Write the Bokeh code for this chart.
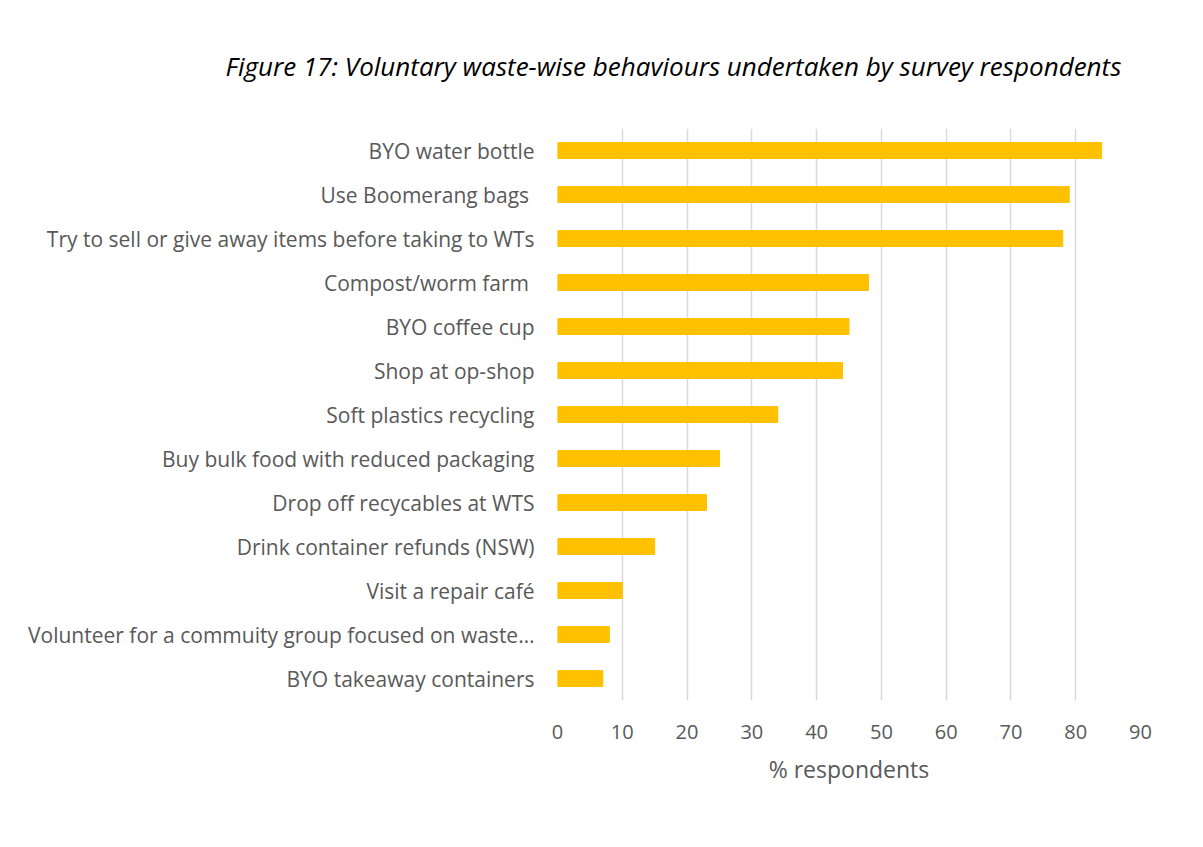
from bokeh.plotting import figure
from bokeh.models import FactorRange, Range1d, FixedTicker, Title
from bokeh.embed import file_html
from bokeh.resources import INLINE

categories = [
    "BYO water bottle",
    "Use Boomerang bags ",
    "Try to sell or give away items before taking to WTs",
    "Compost/worm farm ",
    "BYO coffee cup",
    "Shop at op-shop",
    "Soft plastics recycling",
    "Buy bulk food with reduced packaging",
    "Drop off recycables at WTS",
    "Drink container refunds (NSW)",
    "Visit a repair café",
    "Volunteer for a commuity group focused on waste…",
    "BYO takeaway containers",
]
values = [84, 79, 78, 48, 45, 44, 34, 25, 23, 15, 10, 8, 7]
x_ticks = [0, 10, 20, 30, 40, 50, 60, 70, 80, 90]
title_text = "Figure 17: Voluntary waste-wise behaviours undertaken by survey respondents"
x_label = "% respondents"

FONT = "Open Sans"
GREY = "#595959"

p = figure(
    width=1203, height=847,
    y_range=FactorRange(factors=list(reversed(categories))),
    x_range=Range1d(0, 90),
    output_backend="svg", toolbar_location=None,
    min_border_left=557, min_border_right=63,
    min_border_top=128, min_border_bottom=147,
)
p.title = None
p.add_layout(Title(text=title_text, text_font=FONT, text_font_size="26px",
                   text_font_style="italic", text_color="#000000",
                   align="left", offset=-332, standoff=90), "above")

p.hbar(y=categories, right=values, left=0, height=0.36, color="#FFC000")

p.outline_line_color = None
p.ygrid.grid_line_color = None
p.xgrid.grid_line_color = "#d9d9d9"
p.xgrid.grid_line_width = 1.5
p.xaxis.ticker = FixedTicker(ticks=x_ticks)

for ax in (p.xaxis[0], p.yaxis[0]):
    ax.axis_line_color = None
    ax.major_tick_line_color = None
    ax.minor_tick_line_color = None
    ax.major_label_text_font = FONT
    ax.major_label_text_color = GREY

p.yaxis.major_label_text_font_size = "21px"
p.xaxis.major_label_text_font_size = "20px"
p.yaxis.major_label_standoff = 17
p.xaxis.major_label_standoff = 18
p.xaxis.axis_label = x_label
p.xaxis.axis_label_text_font = FONT
p.xaxis.axis_label_text_font_size = "23px"
p.xaxis.axis_label_text_font_style = "normal"
p.xaxis.axis_label_text_color = GREY
p.xaxis.axis_label_standoff = 11

open("out.html", "w").write(file_html(p, INLINE))
